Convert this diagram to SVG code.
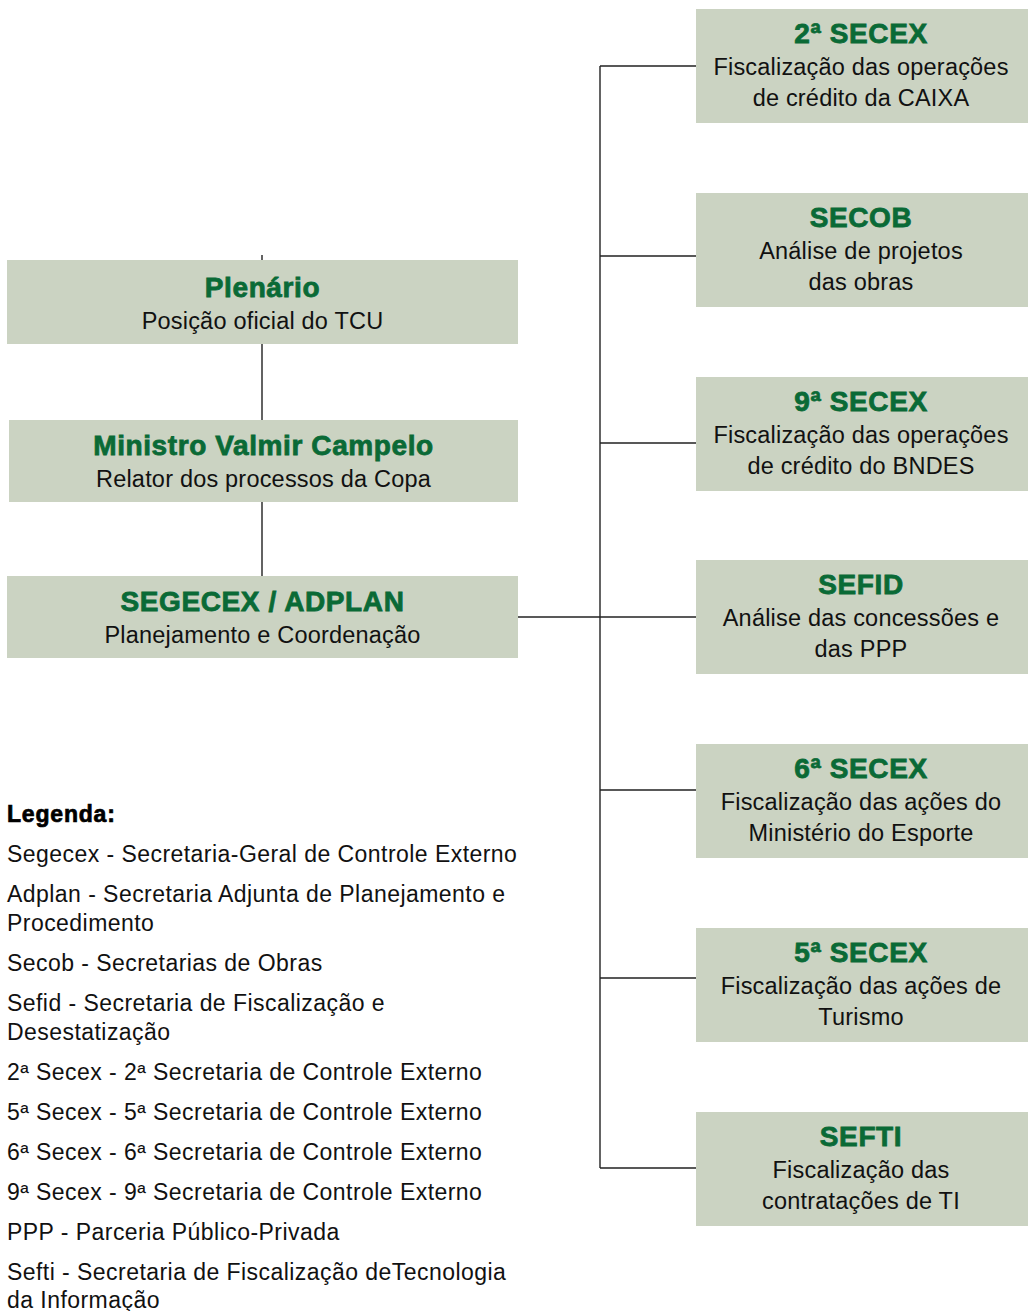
<svg xmlns="http://www.w3.org/2000/svg" width="1028" height="1311" viewBox="0 0 1028 1311">
<style>
.box{fill:#cbd3c2;}
.t{font-family:"Liberation Sans",Arial,sans-serif;font-weight:bold;font-size:28px;fill:#0a6a36;stroke:#0a6a36;stroke-width:0.8px;text-anchor:middle;letter-spacing:0.6px;}
.s{font-family:"Liberation Sans",Arial,sans-serif;font-size:23.5px;fill:#111;text-anchor:middle;letter-spacing:0.2px;}
.l{font-family:"Liberation Sans",Arial,sans-serif;font-size:23px;fill:#111;letter-spacing:0.45px;}
.lh{font-family:"Liberation Sans",Arial,sans-serif;font-weight:bold;font-size:23px;fill:#000;stroke:#000;stroke-width:0.7px;letter-spacing:0.8px;}
.c{stroke:#222;stroke-width:1.4;fill:none;}
</style>
<rect width="1028" height="1311" fill="#fff"/>
<g id="connectors" class="c">
<path d="M262 255V260M262 344V420M262 502V576"/>
<path d="M518 617H696"/>
<path d="M600 66V1168"/>
<path d="M600 66H696M600 256H696M600 443H696M600 790H696M600 978H696M600 1168H696"/>
</g>
<g id="plenario">
<rect class="box" x="7" y="260" width="511" height="84"/>
<text class="t" x="262.5" y="297">Plenário</text>
<text class="s" x="262.5" y="329">Posição oficial do TCU</text>
</g>
<g id="ministro">
<rect class="box" x="9" y="420" width="509" height="82"/>
<text class="t" x="263.5" y="455">Ministro Valmir Campelo</text>
<text class="s" x="263.5" y="487">Relator dos processos da Copa</text>
</g>
<g id="segecex">
<rect class="box" x="7" y="576" width="511" height="82"/>
<text class="t" x="262.5" y="611">SEGECEX / ADPLAN</text>
<text class="s" x="262.5" y="643">Planejamento e Coordenação</text>
</g>
<g id="secex2">
<rect class="box" x="696" y="9" width="332" height="114"/>
<text class="t" x="861" y="43">2ª SECEX</text>
<text class="s" x="861" y="75">Fiscalização das operações</text>
<text class="s" x="861" y="106">de crédito da CAIXA</text>
</g>
<g id="secob">
<rect class="box" x="696" y="193" width="332" height="114"/>
<text class="t" x="861" y="227">SECOB</text>
<text class="s" x="861" y="259">Análise de projetos</text>
<text class="s" x="861" y="290">das obras</text>
</g>
<g id="secex9">
<rect class="box" x="696" y="377" width="332" height="114"/>
<text class="t" x="861" y="411">9ª SECEX</text>
<text class="s" x="861" y="443">Fiscalização das operações</text>
<text class="s" x="861" y="474">de crédito do BNDES</text>
</g>
<g id="sefid">
<rect class="box" x="696" y="560" width="332" height="114"/>
<text class="t" x="861" y="594">SEFID</text>
<text class="s" x="861" y="626">Análise das concessões e</text>
<text class="s" x="861" y="657">das PPP</text>
</g>
<g id="secex6">
<rect class="box" x="696" y="744" width="332" height="114"/>
<text class="t" x="861" y="778">6ª SECEX</text>
<text class="s" x="861" y="810">Fiscalização das ações do</text>
<text class="s" x="861" y="841">Ministério do Esporte</text>
</g>
<g id="secex5">
<rect class="box" x="696" y="928" width="332" height="114"/>
<text class="t" x="861" y="962">5ª SECEX</text>
<text class="s" x="861" y="994">Fiscalização das ações de</text>
<text class="s" x="861" y="1025">Turismo</text>
</g>
<g id="sefti">
<rect class="box" x="696" y="1112" width="332" height="114"/>
<text class="t" x="861" y="1146">SEFTI</text>
<text class="s" x="861" y="1178">Fiscalização das</text>
<text class="s" x="861" y="1209">contratações de TI</text>
</g>
<g id="legenda">
<text class="lh" x="7" y="822">Legenda:</text>
<text class="l" x="7" y="862">Segecex - Secretaria-Geral de Controle Externo</text>
<text class="l" x="7" y="902">Adplan - Secretaria Adjunta de Planejamento e</text>
<text class="l" x="7" y="931">Procedimento</text>
<text class="l" x="7" y="971">Secob - Secretarias de Obras</text>
<text class="l" x="7" y="1011">Sefid - Secretaria de Fiscalização e</text>
<text class="l" x="7" y="1040">Desestatização</text>
<text class="l" x="7" y="1080">2ª Secex - 2ª Secretaria de Controle Externo</text>
<text class="l" x="7" y="1120">5ª Secex - 5ª Secretaria de Controle Externo</text>
<text class="l" x="7" y="1160">6ª Secex - 6ª Secretaria de Controle Externo</text>
<text class="l" x="7" y="1200">9ª Secex - 9ª Secretaria de Controle Externo</text>
<text class="l" x="7" y="1240">PPP - Parceria Público-Privada</text>
<text class="l" x="7" y="1280">Sefti - Secretaria de Fiscalização deTecnologia</text>
<text class="l" x="7" y="1308">da Informação</text>
</g>
</svg>
